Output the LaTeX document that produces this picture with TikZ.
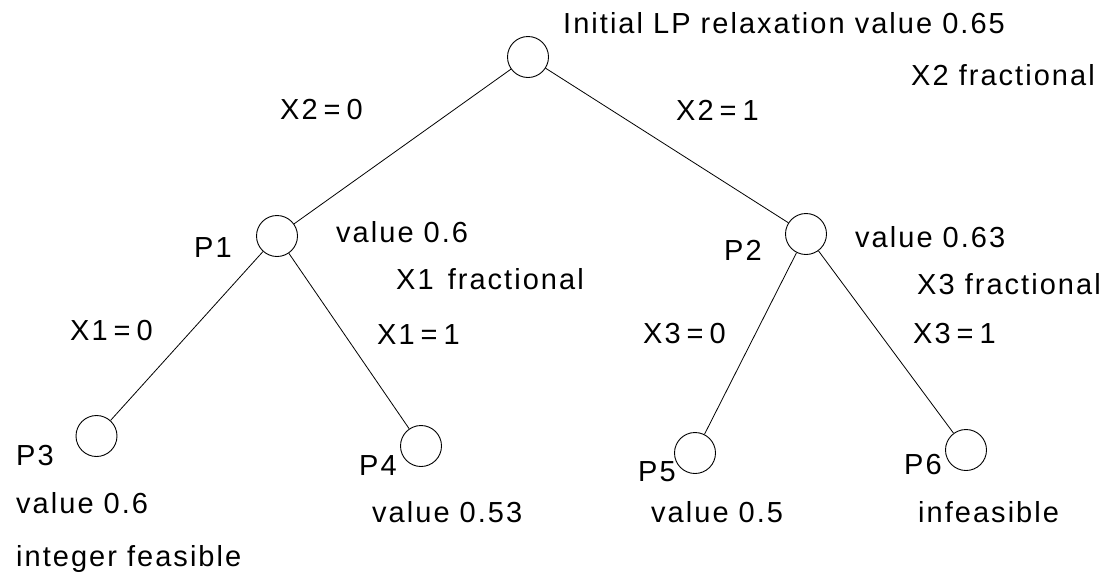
\documentclass[tikz,border=0pt]{standalone}
\usepackage{fontspec}
\setmainfont{Liberation Sans}[LetterSpace=7]
\begin{document}
\begin{tikzpicture}[x=1pt,y=-1pt,
  bnode/.style={circle,draw,line width=0.9pt,minimum size=41pt,inner sep=0pt},
  lbl/.style={anchor=base west,inner sep=0pt,font=\fontsize{29}{32}\selectfont},
  edge/.style={line width=0.8pt}]
\useasboundingbox[fill=white] (0,0) rectangle (1108,574);
% tree nodes
\node[bnode] (R) at (528,57) {};
\node[bnode] (P1) at (277,236) {};
\node[bnode] (P2) at (806,234) {};
\node[bnode] (P3) at (96.5,436) {};
\node[bnode] (P4) at (421,446) {};
\node[bnode] (P5) at (695,453) {};
\node[bnode] (P6) at (966,450) {};
% edges
\draw[edge] (R) -- (P1);
\draw[edge] (R) -- (P2);
\draw[edge] (P1) -- (P3);
\draw[edge] (P1) -- (P4);
\draw[edge] (P2) -- (P5);
\draw[edge] (P2) -- (P6);
% labels
\node[lbl] (t0) at (563,33) {Initial LP relaxation value 0.65};
\node[lbl] (t1) at (911,85) {X2 fractional};
\node[lbl] (e1) at (280,119) {X2\hspace{6pt}=\hspace{6pt}0};
\node[lbl] (e2) at (676,120) {X2\hspace{6pt}=\hspace{6pt}1};
\node[lbl] (lp1) at (194,257) {P1};
\node[lbl] (v1) at (336,242) {value 0.6};
\node[lbl] (f1) at (396,289) {X1\hspace{4pt} fractional};
\node[lbl] (e3) at (70,340) {X1\hspace{6pt}=\hspace{6pt}0};
\node[lbl] (e4) at (377,344) {X1\hspace{6pt}=\hspace{6pt}1};
\node[lbl] (lp2) at (724,260) {P2};
\node[lbl] (v2) at (855,247) {value 0.63};
\node[lbl] (f2) at (917,294) {X3 fractional};
\node[lbl] (e5) at (643,343) {X3\hspace{6pt}=\hspace{6pt}0};
\node[lbl] (e6) at (913,343) {X3\hspace{6pt}=\hspace{6pt}1};
\node[lbl] (lp3) at (16,465) {P3};
\node[lbl] (lp4) at (359,475) {P4};
\node[lbl] (lp5) at (638,481) {P5};
\node[lbl] (lp6) at (904,474) {P6};
\node[lbl] (v3) at (16,513) {value 0.6};
\node[lbl] (v4) at (372,522) {value 0.53};
\node[lbl] (v5) at (651,522) {value 0.5};
\node[lbl] (v6) at (918,522) {infeasible};
\node[lbl] (v7) at (16,566) {integer feasible};
\end{tikzpicture}
\end{document}
